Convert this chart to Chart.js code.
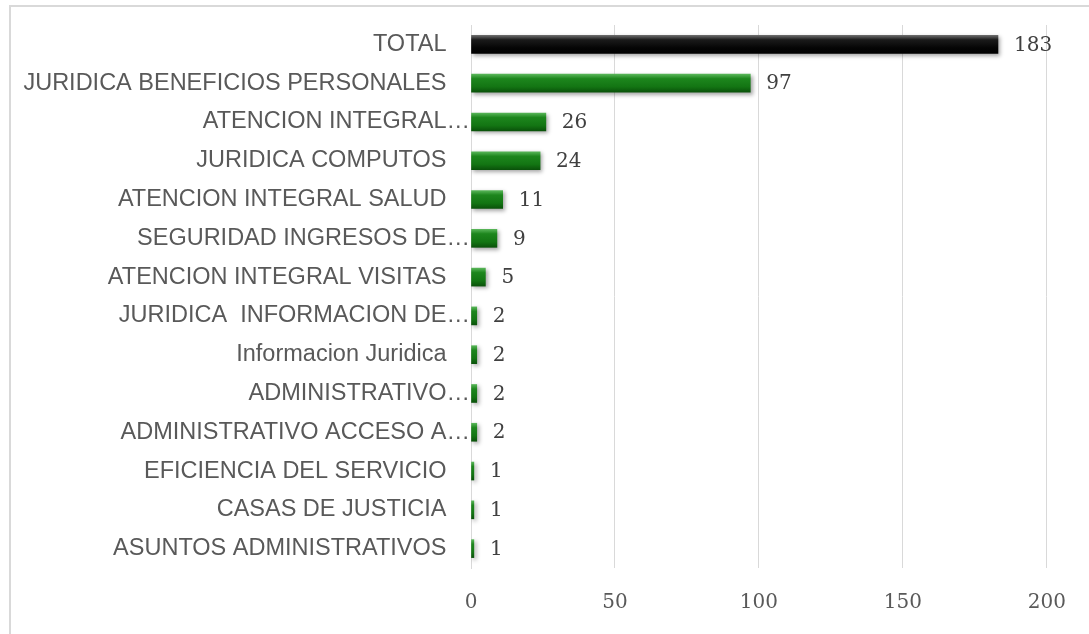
<!DOCTYPE html>
<html>
<head>
<meta charset="utf-8">
<script src="https://cdn.jsdelivr.net/npm/chart.js@4.4.1/dist/chart.umd.min.js"></script>
<style>
  html, body { margin: 0; padding: 0; background: #fff; }
  #wrap { position: relative; width: 1089px; height: 634px; overflow: hidden; }
  #frame {
    position: absolute; left: 9px; top: 5px; width: 1200px; height: 700px;
    border-left: 2px solid #d9d9d9; border-top: 2px solid #d9d9d9;
  }
  #chart { position: absolute; left: 0; top: 0; }
</style>
</head>
<body>
<div id="wrap">
  <div id="frame"></div>
  <canvas id="chart" width="1089" height="634"></canvas>
</div>
<script>
// Data
const categories = [
  'TOTAL',
  'JURIDICA BENEFICIOS PERSONALES',
  'ATENCION INTEGRAL…',
  'JURIDICA COMPUTOS',
  'ATENCION INTEGRAL SALUD',
  'SEGURIDAD INGRESOS DE…',
  'ATENCION INTEGRAL VISITAS',
  'JURIDICA  INFORMACION DE…',
  'Informacion Juridica',
  'ADMINISTRATIVO…',
  'ADMINISTRATIVO ACCESO A…',
  'EFICIENCIA DEL SERVICIO',
  'CASAS DE JUSTICIA',
  'ASUNTOS ADMINISTRATIVOS'
];
const values = [183, 97, 26, 24, 11, 9, 5, 2, 2, 2, 2, 1, 1, 1];
const xMin = 0;
const xMax = 200;
const xStep = 50;

const labelFont = '"Liberation Sans", Arial, sans-serif';
const numberFont = '"DejaVu Serif", Cambria, serif';

// Bar fill: shaded like a bevelled bar (lighter top edge, dark bottom edge)
function barFill(context) {
  const chart = context.chart;
  const yScale = chart.scales.y;
  const isTotal = context.dataIndex === 0;
  const stops = isTotal
    ? ['#6a6a6a', '#1a1a1a', '#050505', '#000000']
    : ['#58b558', '#1d861d', '#137513', '#0a520a'];
  if (!yScale || yScale.top === undefined) return stops[1];
  const c = yScale.getPixelForValue(context.dataIndex);
  const g = chart.ctx.createLinearGradient(0, c - 9, 0, c + 9);
  g.addColorStop(0, stops[0]);
  g.addColorStop(0.25, stops[1]);
  g.addColorStop(0.7, stops[2]);
  g.addColorStop(1, stops[3]);
  return g;
}

// Soft shadow under bars + value labels at bar ends
const barExtras = {
  id: 'barExtras',
  beforeDatasetsDraw(chart) {
    const ctx = chart.ctx;
    ctx.save();
    ctx.shadowColor = 'rgba(0,0,0,0.35)';
    ctx.shadowBlur = 4;
    ctx.shadowOffsetX = 2;
    ctx.shadowOffsetY = 2;
  },
  afterDatasetsDraw(chart) {
    const ctx = chart.ctx;
    ctx.restore();
    const meta = chart.getDatasetMeta(0);
    ctx.save();
    ctx.font = '20px ' + numberFont;
    ctx.fillStyle = '#404040';
    ctx.textAlign = 'left';
    ctx.textBaseline = 'middle';
    meta.data.forEach((bar, i) => {
      ctx.fillText(String(values[i]), bar.x + 16, bar.y + 1);
    });
    ctx.restore();
  }
};

new Chart(document.getElementById('chart'), {
  type: 'bar',
  data: {
    labels: categories,
    datasets: [{
      data: values,
      backgroundColor: barFill,
      borderWidth: 0,
      barThickness: 18
    }]
  },
  options: {
    indexAxis: 'y',
    responsive: false,
    animation: false,
    layout: { padding: { top: 25, right: 40, left: 0, bottom: 0 } },
    plugins: {
      legend: { display: false },
      tooltip: { enabled: false }
    },
    scales: {
      x: {
        min: xMin,
        max: xMax,
        afterFit: scale => { scale.height = 66; },
        grid: { color: '#d9d9d9', lineWidth: 1, drawTicks: false },
        border: { display: false },
        ticks: {
          stepSize: xStep,
          padding: 23,
          color: '#595959',
          font: { family: numberFont, size: 20 }
        }
      },
      y: {
        afterFit: scale => { scale.width = 471; },
        grid: { display: false, drawTicks: false },
        border: { display: true, color: '#d9d9d9', width: 1 },
        ticks: {
          padding: 1,
          color: '#595959',
          font: { family: labelFont, size: 23.5 },
          callback: function(v, i) {
            const s = categories[i];
            return s.endsWith('…') ? s : s + '\u2003';
          }
        }
      }
    }
  },
  plugins: [barExtras]
});
</script>
</body>
</html>
